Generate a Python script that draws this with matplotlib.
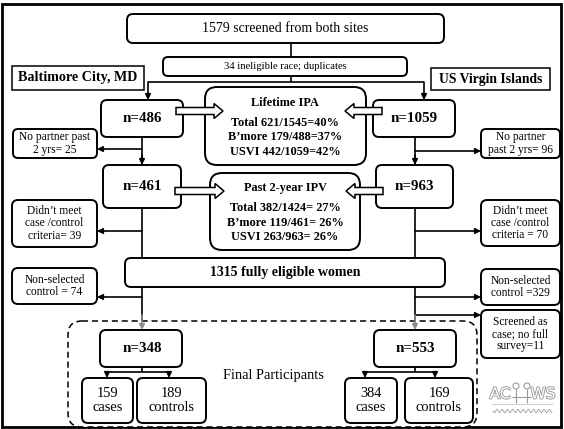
import numpy as np
import matplotlib
matplotlib.use("Agg")
import matplotlib.pyplot as plt
import matplotlib.patheffects as pe
from matplotlib.patches import FancyBboxPatch, Rectangle, FancyArrow, Circle

plt.rcParams['font.family'] = ['Liberation Serif', 'DejaVu Serif']

# flow counts
screened_total = 1579
ineligible = 34
site_names = ["Baltimore City, MD", "US Virgin Islands"]
site_n = [486, 1059]
no_partner = [25, 96]
past2_n = [461, 963]
not_criteria = [39, 70]
fully_eligible = 1315
non_selected = [74, 329]
screened_no_survey = 11
final_n = [348, 553]
cases = [159, 384]
controls = [189, 169]

# prevalence boxes
lifetime_ipa = [("Total", 621, 1545, 40), ("B\u2019more", 179, 488, 37), ("USVI", 442, 1059, 42)]
past2_ipv = [("Total", 382, 1424, 27), ("B\u2019more", 119, 461, 26), ("USVI", 263, 963, 26)]

fig = plt.figure(figsize=(5.64, 4.29), dpi=100)
ax = fig.add_axes([0, 0, 1, 1])
ax.set_xlim(0, 564)
ax.set_ylim(429, 0)
ax.axis('off')


def box(x0, y0, x1, y1, r=6, lw=1.4, ls='-', ec='black', z=3):
    p = FancyBboxPatch((x0, y0), x1 - x0, y1 - y0,
                       boxstyle="round,pad=0,rounding_size=%g" % r,
                       fc='white', ec=ec, lw=lw, ls=ls, zorder=z)
    ax.add_patch(p)


def txt(x, y, s, size=9, bold=False, color='black', z=5):
    ax.text(x, y, s, ha='center', va='center', fontsize=size,
            fontweight='bold' if bold else 'normal', color=color,
            linespacing=1.05, zorder=z)


def line(xs, ys, color='black', lw=1.2):
    ax.plot(xs, ys, color=color, lw=lw, zorder=2, solid_capstyle='butt')


def arrow(x0, y0, x1, y1, color='black'):
    ax.annotate('', xy=(x1, y1), xytext=(x0, y0),
                arrowprops=dict(arrowstyle='-|>', color=color, lw=1.2,
                                mutation_scale=8, shrinkA=0, shrinkB=0),
                zorder=2)


def hollow(x0, x1, y):
    a = FancyArrow(x0, y, x1 - x0, 0, width=7, head_width=15, head_length=9,
                   length_includes_head=True, fc='white', ec='black', lw=1.1, zorder=6)
    ax.add_patch(a)


# outer frame
ax.add_patch(Rectangle((2, 4), 559, 423, fill=False, ec='black', lw=2, zorder=1))

# top
box(127, 14, 444, 43)
txt(285.5, 29, f"{screened_total} screened from both sites", size=10)
line([291, 291], [43, 57])
box(163, 57, 407, 76, r=5)
txt(285, 66.5, f"{ineligible} ineligible race; duplicates", size=7.7)
line([291, 291], [76, 82])
line([148, 424], [82, 82])
arrow(148, 82, 148, 100)
arrow(424, 82, 424, 100)

# site labels
ax.add_patch(Rectangle((12, 66), 132, 24, fc='white', ec='black', lw=1.1, zorder=3))
txt(78, 78, site_names[0], size=10.2, bold=True)
ax.add_patch(Rectangle((431, 68), 119, 22, fc='white', ec='black', lw=1.1, zorder=3))
txt(490.5, 79, site_names[1], size=9.8, bold=True)

# first-level site boxes
xl, xr = 142, 415
box(101, 100, 183, 137)
txt(142, 118.5, f"n={site_n[0]}", size=10.8, bold=True)
box(373, 100, 455, 137)
txt(414, 118.5, f"n={site_n[1]}", size=10.8, bold=True)

# lifetime IPA box
box(205, 87, 366, 165, r=12)
txt(285, 103, "Lifetime IPA", size=8.8, bold=True)
for i, (lab, a, b, p) in enumerate(lifetime_ipa):
    txt(285, 123 + 14.5 * i, f"{lab} {a}/{b}={p}%", size=8.8, bold=True)
hollow(176, 223, 111)
hollow(382, 345, 111)

# no partner
line([xl, xl], [137, 165])
arrow(xl, 155, xl, 165)
arrow(xl, 149, 97, 149)
box(13, 129, 97, 158, r=5)
txt(55, 143.5, f"No partner past\n2 yrs= {no_partner[0]}", size=8.3)
line([xr, xr], [137, 165])
arrow(xr, 155, xr, 165)
arrow(xr, 151, 481, 151)
box(481, 129, 560, 158, r=5)
txt(520.5, 143.5, f"No partner\npast 2 yrs= {no_partner[1]}", size=8.3)

# second-level site boxes
box(103, 165, 181, 208)
txt(142, 186.5, f"n={past2_n[0]}", size=10.8, bold=True)
box(376, 165, 453, 208)
txt(414.5, 186.5, f"n={past2_n[1]}", size=10.8, bold=True)

# past 2-year IPV box
box(210, 173, 360, 250, r=12)
txt(285, 188, "Past 2-year IPV", size=8.8, bold=True)
for i, (lab, a, b, p) in enumerate(past2_ipv):
    txt(285, 208 + 14.5 * i, f"{lab} {a}/{b}= {p}%", size=8.8, bold=True)
hollow(175, 224, 191)
hollow(383, 346, 191)

# didn't meet criteria
line([xl, xl], [208, 258])
arrow(xl, 231, 97, 231)
box(12, 200, 97, 247, r=6)
txt(54.5, 223.5, f"Didn\u2019t meet\ncase /control\ncriteria= {not_criteria[0]}", size=8.3)
line([xr, xr], [208, 258])
arrow(xr, 231, 481, 231)
box(481, 200, 560, 246, r=6)
txt(520.5, 223, f"Didn\u2019t meet\ncase /control\ncriteria = {not_criteria[1]}", size=8.3)

# fully eligible
box(125, 258, 445, 287, r=6)
txt(285, 272.5, f"{fully_eligible} fully eligible women", size=10, bold=True)

# non-selected controls
line([xl, xl], [287, 322])
arrow(xl, 297, 97, 297)
box(12, 268, 97, 304, r=6)
txt(54.5, 286, f"Non-selected\ncontrol = {non_selected[0]}", size=8.3)
line([xr, xr], [287, 322])
arrow(xr, 297, 481, 297)
box(481, 269, 560, 305, r=6)
txt(520.5, 287, f"Non-selected\ncontrol ={non_selected[1]}", size=8.3)
arrow(xr, 315, 481, 315)
box(481, 310, 560, 358, r=6)
txt(520.5, 334, f"Screened as\ncase; no full\nsurvey={screened_no_survey}", size=8.3)

# final participants region
box(68, 321, 477, 427, r=14, lw=1.1, ls=(0, (4, 2.5)), z=1.5)
arrow(xl, 315, xl, 330, color='#8c8c8c')
arrow(xr, 315, xr, 330, color='#8c8c8c')
txt(273, 376, "Final Participants", size=10.4)

for k, (cx, bx0, bx1) in enumerate([(142, 100, 182), (415, 374, 456)]):
    box(bx0, 330, bx1, 367)
    txt(cx, 348.5, f"n={final_n[k]}", size=10.8, bold=True)
    line([cx, cx], [367, 372])
    if k == 0:
        cbox, tbox = (82, 133), (137, 206)
    else:
        cbox, tbox = (345, 397), (405, 473)
    ca = cbox[0] + 25 if k == 0 else cbox[0] + 20
    cb = tbox[0] + 32 if k == 0 else tbox[0] + 30
    line([ca, cb], [372, 372])
    arrow(ca, 372, ca, 378)
    arrow(cb, 372, cb, 378)
    box(cbox[0], 378, cbox[1], 423)
    txt(sum(cbox) / 2, 400.5, f"{cases[k]}\ncases", size=10.4)
    box(tbox[0], 378, tbox[1], 423)
    txt(sum(tbox) / 2, 400.5, f"{controls[k]}\ncontrols", size=10.4)

# logo
lg = '#9a9a9a'
for s, lx in (("AC", 500), ("WS", 543)):
    ax.text(lx, 394, s, ha='center', va='center', fontsize=11, color='white',
            family='DejaVu Sans', zorder=5,
            path_effects=[pe.withStroke(linewidth=1.3, foreground=lg)])
for hx in (516, 527):
    ax.add_patch(Circle((hx, 386), 3, fc='white', ec=lg, lw=0.8, zorder=5))
    line([hx, hx], [389, 403], color=lg, lw=0.8)
line([512, 531], [397, 397], color=lg, lw=0.8)
line([492, 553], [404, 404], color='#c8c8c8', lw=0.6)
wx = np.linspace(493, 552, 160)
ax.plot(wx, 411 + 1.6 * np.sin((wx - 493) * 1.2), color=lg, lw=0.6, zorder=5)

fig.savefig("out.png", dpi=100)
